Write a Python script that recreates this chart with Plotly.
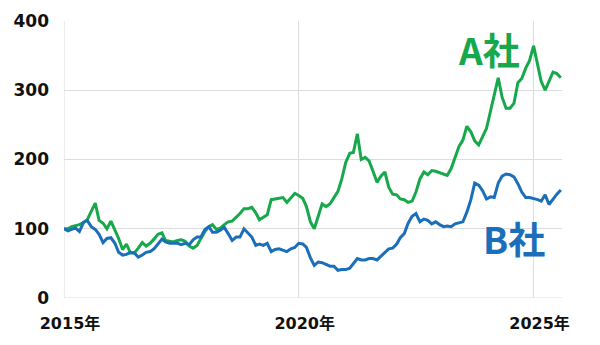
import pandas as pd
import plotly.graph_objects as go

dates = pd.date_range("2015-01-01", periods=128, freq="MS")

company_a = [
    100, 100, 103, 104, 106, 109, 113, 125, 137, 112, 108, 100,
    111, 98, 86, 70, 78, 65, 65, 72, 80, 75, 79, 85,
    92, 94, 83, 82, 81, 83, 84, 82, 75, 72, 76, 86,
    96, 103, 106, 99, 101, 106, 110, 111, 116, 122, 129, 129,
    131, 123, 113, 117, 120, 142, 143, 145, 145, 138, 144, 151,
    148, 144, 132, 110, 100, 120, 136, 132, 136, 145, 154, 172,
    196, 209, 210, 237, 200, 203, 198, 183, 167, 176, 182, 160,
    150, 149, 143, 142, 138, 140, 153, 172, 182, 178, 184, 183,
    181, 179, 177, 187, 202, 219, 228, 248, 240, 227, 221, 232,
    245, 270, 292, 318, 290, 274, 274, 281, 311, 317, 332, 343,
    364, 338, 313, 300, 312, 326, 324, 318,
]

company_b = [
    100, 97, 99, 101, 96, 109, 112, 103, 99, 92, 80, 86,
    87, 79, 66, 62, 63, 66, 65, 59, 62, 66, 67, 71,
    78, 85, 81, 79, 79, 79, 77, 79, 77, 84, 88, 88,
    99, 103, 95, 95, 98, 102, 93, 83, 88, 88, 100, 94,
    88, 76, 78, 76, 79, 67, 70, 71, 69, 67, 71, 73,
    79, 78, 73, 58, 47, 52, 51, 48, 46, 46, 40, 41,
    41, 43, 50, 57, 55, 55, 57, 57, 55, 60, 65, 71,
    72, 78, 87, 93, 108, 118, 122, 110, 114, 112, 107, 110,
    106, 103, 104, 103, 107, 109, 110, 124, 142, 166, 163, 155,
    143, 146, 145, 166, 176, 179, 178, 175, 165, 153, 145, 145,
    144, 142, 140, 149, 135, 143, 150, 156,
]

series_names = ["A社", "B社"]
green = "#17a84b"
blue = "#1b6fba"

x_tick_vals = ["2015-01-01", "2020-01-01", "2025-01-01"]
x_tick_text = ["2015年", "2020年", "2025年"]
y_tick_vals = [0, 100, 200, 300, 400]

font_family = "DejaVu Sans, Noto Sans CJK JP, sans-serif"

fig = go.Figure()
fig.add_trace(go.Scatter(x=dates, y=company_a, mode="lines", name=series_names[0],
                         line=dict(color=green, width=3)))
fig.add_trace(go.Scatter(x=dates, y=company_b, mode="lines", name=series_names[1],
                         line=dict(color=blue, width=3)))

fig.add_annotation(x="2024-01-20", y=359, text="<b>A社</b>", showarrow=False,
                   font=dict(family="Noto Sans CJK JP, sans-serif", size=37, color=green))
fig.add_annotation(x="2024-08-01", y=86, text="<b>B社</b>", showarrow=False,
                   font=dict(family="Noto Sans CJK JP, sans-serif", size=37, color=blue))

fig.update_layout(
    width=600, height=345,
    margin=dict(l=64, r=38, t=21, b=47),
    paper_bgcolor="white", plot_bgcolor="white",
    showlegend=False,
    font=dict(family=font_family, size=17, color="#111111"),
)
fig.update_xaxes(
    range=["2015-01-01", "2025-08-10"],
    tickvals=x_tick_vals, ticktext=x_tick_text,
    showgrid=True, gridcolor="#dddddd", gridwidth=1,
    showline=False, zeroline=False,
    tickfont=dict(family=font_family, size=16, color="#111111", weight="bold"),
    ticklabelstandoff=14, ticklabelshift=6,
)
fig.update_yaxes(
    range=[0, 400], tickvals=y_tick_vals,
    showgrid=True, gridcolor="#dddddd", gridwidth=1,
    zeroline=False, showline=False,
    tickfont=dict(family=font_family, size=17, color="#111111", weight="bold"),
    ticklabelstandoff=14,
)
fig.add_shape(type="line", xref="x", yref="paper", x0="2015-01-01", x1="2015-01-01",
              y0=0, y1=1, line=dict(color="#dddddd", width=1), layer="below")
fig.add_shape(type="line", xref="paper", yref="y", x0=0, x1=1, y0=0, y1=0,
              line=dict(color="#dddddd", width=1), layer="below")

fig.write_html("out.html")
